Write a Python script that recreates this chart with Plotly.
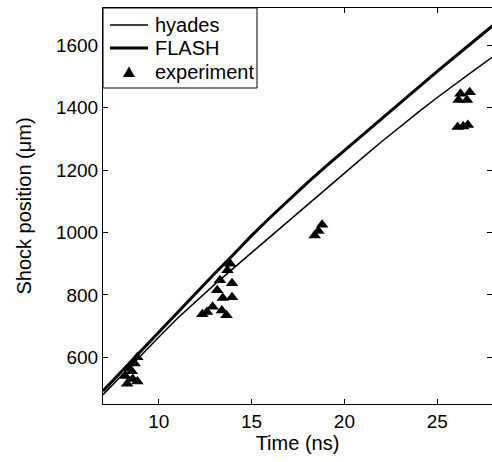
import plotly.graph_objects as go

# Simulation curves
time_sim = [7, 8, 9, 10, 11, 12, 13, 14, 15, 16, 17, 18, 19, 20, 21, 22, 23, 24, 25, 26, 27, 28]
flash = [492, 555, 617, 680, 745, 808, 868, 928, 990, 1048, 1105, 1159, 1212, 1263,
         1315, 1367, 1418, 1468, 1517, 1566, 1615, 1664]
hyades = [480, 542, 603, 664, 724, 780, 833, 884, 935, 987, 1040, 1091, 1141, 1191,
          1241, 1291, 1340, 1387, 1433, 1478, 1521, 1564]

# Experimental points
exp_time = [8.2, 8.3, 8.4, 8.55, 8.7, 8.85, 8.85, 8.6,
            12.35, 12.6, 12.9, 13.15, 13.3, 13.4, 13.45, 13.65, 13.7, 13.85, 13.95, 13.95,
            18.4, 18.6, 18.8,
            26.15, 26.25, 26.6, 26.75, 26.1, 26.4, 26.65]
exp_pos = [540, 515, 565, 555, 580, 600, 522, 530,
           738, 745, 762, 815, 847, 750, 790, 735, 879, 900, 837, 792,
           990, 1005, 1025,
           1425, 1445, 1425, 1450, 1338, 1340, 1345]

x_ticks = [10, 15, 20, 25]
y_ticks = [600, 800, 1000, 1200, 1400, 1600]
legend_labels = ["hyades", "FLASH", "experiment"]

FONT = "Liberation Sans, Arial, Helvetica, sans-serif"

fig = go.Figure()
fig.add_trace(go.Scatter(x=time_sim, y=hyades, mode="lines", name=legend_labels[0],
                         line=dict(color="black", width=1.5)))
fig.add_trace(go.Scatter(x=time_sim, y=flash, mode="lines", name=legend_labels[1],
                         line=dict(color="black", width=3)))
fig.add_trace(go.Scatter(x=exp_time, y=exp_pos, mode="markers", name=legend_labels[2],
                         marker=dict(symbol="triangle-up", size=11, color="black")))

tick_common = dict(ticks="inside", ticklen=5, tickcolor="black", showgrid=False,
                   zeroline=False, tickfont=dict(family=FONT, size=19, color="black"))

# Plot area in pixels: x 103..492, y 8..404
L, R, T, B = 103, 492, 8, 404
W, H = R - L, B - T
def px(x):
    return (x - L) / W
def py(y):
    return 1 - (y - T) / H

shapes = [
    # legend box
    dict(type="rect", xref="paper", yref="paper", x0=px(L), x1=px(257), y0=py(88), y1=py(T),
         line=dict(color="black", width=1), fillcolor="white", layer="above"),
    # legend samples
    dict(type="line", xref="paper", yref="paper", x0=px(110), x1=px(148), y0=py(25), y1=py(25),
         line=dict(color="black", width=1.5)),
    dict(type="line", xref="paper", yref="paper", x0=px(110), x1=px(148), y0=py(48), y1=py(48),
         line=dict(color="black", width=3)),
    dict(type="path", xref="paper", yref="paper",
         path=f"M {px(123)},{py(77)} L {px(135)},{py(77)} L {px(129)},{py(66.5)} Z",
         fillcolor="black", line=dict(color="black", width=0)),
]
annotations = [
    dict(xref="paper", yref="paper", x=px(153), y=py(yy), text=t, showarrow=False,
         xanchor="left", yanchor="middle", font=dict(family=FONT, size=20, color="black"))
    for t, yy in zip(legend_labels, [25, 48, 72])
]

fig.update_layout(
    width=492, height=462,
    margin=dict(l=L, r=492 - R, t=T, b=462 - B),
    paper_bgcolor="white", plot_bgcolor="white",
    font=dict(family=FONT, size=19, color="black"),
    showlegend=False,
    shapes=shapes,
    annotations=annotations,
    xaxis=dict(range=[7, 27.95], tickvals=x_ticks, showline=True, linecolor="black",
               linewidth=1, mirror="ticks",
               title=dict(text="Time (ns)", font=dict(family=FONT, size=20), standoff=2),
               **tick_common),
    yaxis=dict(range=[450, 1720], tickvals=y_ticks, showline=True, linecolor="black",
               linewidth=1, mirror=False,
               title=dict(text="Shock position (μm)", font=dict(family=FONT, size=20), standoff=18),
               **tick_common),
    yaxis2=dict(overlaying="y", side="right", matches="y", range=[450, 1720],
                tickvals=y_ticks, showticklabels=False, showline=False,
                ticks="inside", ticklen=5, tickcolor="black", showgrid=False, zeroline=False),
)
# attach an invisible trace so yaxis2 is drawn
fig.add_trace(go.Scatter(x=[], y=[], yaxis="y2", showlegend=False, hoverinfo="skip"))

fig.write_html("out.html")
